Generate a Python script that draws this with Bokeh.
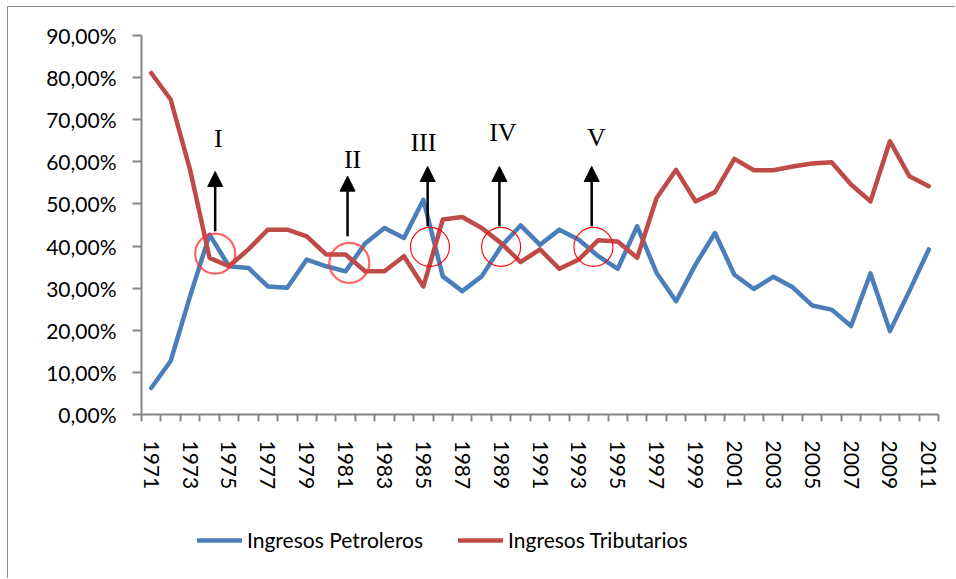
from bokeh.plotting import figure
from bokeh.layouts import column
from bokeh.models import (Range1d, FixedTicker, Legend, LegendItem, Arrow, NormalHead,
                          ColumnDataSource)
from bokeh.core.properties import value
from bokeh.embed import file_html
from bokeh.resources import INLINE

# ---------------- data ----------------
years = list(range(1971, 2012))
petroleros = [6.3, 12.7, 28.1, 42.7, 35.2, 34.8, 30.4, 30.1, 36.8, 35.2,
              34.0, 40.6, 44.3, 41.9, 51.0, 32.8, 29.3, 32.8, 39.9, 44.9,
              40.3, 43.9, 41.5, 37.6, 34.6, 44.7, 33.6, 26.9, 35.6, 43.1,
              33.2, 29.8, 32.7, 30.2, 25.9, 24.9, 21.0, 33.5, 19.8, 29.3,
              39.2]
tributarios = [81.1, 74.8, 58.1, 37.2, 35.2, 39.2, 43.9, 43.9, 42.3, 38.0,
               38.0, 34.0, 34.0, 37.6, 30.4, 46.3, 46.9, 44.3, 40.7, 36.2,
               39.2, 34.6, 36.8, 41.4, 41.1, 37.2, 51.4, 58.1, 50.6, 52.8,
               60.7, 58.0, 58.0, 58.9, 59.6, 59.9, 54.6, 50.6, 64.9, 56.6,
               54.2]
series_names = ["Ingresos Petroleros", "Ingresos Tributarios"]

y_ticks = [0, 10, 20, 30, 40, 50, 60, 70, 80, 90]
y_tick_labels = ["0,00%", "10,00%", "20,00%", "30,00%", "40,00%",
                 "50,00%", "60,00%", "70,00%", "80,00%", "90,00%"]
x_tick_years = years[::2]

# annotations (data coordinates)
ann_labels = ["I", "II", "III", "IV", "V"]
ann_label_x = [1974.45, 1981.36, 1985.0, 1989.09, 1993.9]
ann_label_y = [65.5, 60.6, 64.5, 66.9, 65.7]
arrow_x = [1974.29, 1981.10, 1985.22, 1988.91, 1993.66]
arrow_y0 = [43.5, 42.3, 44.7, 44.7, 44.7]
arrow_y1 = [57.7, 56.6, 58.9, 58.9, 58.9]
circle_x = [1974.29, 1981.19, 1985.34, 1989.0, 1993.75]
circle_y = [38.2, 36.0, 39.8, 39.8, 39.8]

# ---------------- figure ----------------
FONT = "Lato"
AXIS_COLOR = "#868686"
BLUE = "#4A7EBB"
RED = "#BE4B48"

p = figure(width=947, height=492, output_backend="svg", toolbar_location=None,
           x_range=Range1d(1970.5, 2011.5), y_range=Range1d(0, 90),
           min_border_left=133, min_border_right=17, min_border_top=28,
           min_border_bottom=85)
p.outline_line_color = None
p.xgrid.visible = False
p.ygrid.visible = False

# y axis
ya = p.yaxis[0]
ya.ticker = FixedTicker(ticks=y_ticks)
ya.major_label_overrides = {t: l for t, l in zip(y_ticks, y_tick_labels)}
ya.axis_line_color = AXIS_COLOR
ya.axis_line_width = 2
ya.major_tick_line_color = AXIS_COLOR
ya.major_tick_line_width = 2
ya.major_tick_in = 0
ya.major_tick_out = 9
ya.minor_tick_line_color = None
ya.major_label_standoff = 16
ya.major_label_text_font = FONT
ya.major_label_text_font_size = "21px"
ya.major_label_text_color = "black"

# x axis
xa = p.xaxis[0]
xa.ticker = FixedTicker(ticks=x_tick_years,
                        minor_ticks=[y - 0.5 for y in years] + [years[-1] + 0.5])
xa.major_label_overrides = {y: str(y) for y in x_tick_years}
xa.axis_line_color = AXIS_COLOR
xa.axis_line_width = 2
xa.major_tick_line_color = None
xa.major_tick_in = 0
xa.major_tick_out = 0
xa.minor_tick_line_color = AXIS_COLOR
xa.minor_tick_line_width = 2
xa.minor_tick_in = 0
xa.minor_tick_out = 7
xa.major_label_orientation = "vertical"
xa.major_label_standoff = 19
xa.major_label_text_font = FONT
xa.major_label_text_font_size = "21px"
xa.major_label_text_color = "black"

# lines
p.line(years, petroleros, line_color=BLUE, line_width=4.5,
       line_join="round", line_cap="round")
p.line(years, tributarios, line_color=RED, line_width=4.5,
       line_join="round", line_cap="round")

# circles
p.scatter(circle_x[:2], circle_y[:2], marker="circle", size=40, fill_alpha=0,
          line_color="#ff3030", line_alpha=0.75, line_width=2.2)
p.scatter(circle_x[2:], circle_y[2:], marker="circle", size=39, fill_alpha=0,
          line_color="#ff0000", line_width=1.1)

# arrows
arr_src = ColumnDataSource(dict(x=arrow_x, y0=arrow_y0, y1=arrow_y1))
p.add_layout(Arrow(x_start="x", y_start="y0", x_end="x", y_end="y1", source=arr_src,
                   line_color="black", line_width=2.5,
                   end=NormalHead(size=15, fill_color="black", line_color="black",
                                  line_width=1)))

# roman numeral labels
p.text(ann_label_x, ann_label_y, text=ann_labels, text_font=value("Liberation Serif"),
       text_font_size="26px", text_align="center", text_baseline="middle",
       text_color="black")

# ---------------- legend strip ----------------
leg = figure(width=947, height=79, output_backend="svg", toolbar_location=None,
             x_range=Range1d(1970.5, 2011.5), y_range=Range1d(1000, 1001),
             x_axis_location=None, y_axis_location=None, min_border=0)
leg.outline_line_color = None
leg.xgrid.visible = False
leg.ygrid.visible = False
r_pet = leg.line(years, petroleros, line_color=BLUE, line_width=4.5, line_cap="round")
r_tri = leg.line(years, tributarios, line_color=RED, line_width=4.5, line_cap="round")
legend = Legend(items=[LegendItem(label=series_names[0], renderers=[r_pet]),
                       LegendItem(label=series_names[1], renderers=[r_tri])],
                orientation="horizontal", location=(56, 26),
                glyph_width=45, glyph_height=20, label_standoff=5, spacing=35,
                padding=0, margin=0, border_line_color=None,
                background_fill_alpha=0,
                label_text_font=FONT, label_text_font_size="21px",
                label_text_color="black")
leg.add_layout(legend, "center")

layout = column(p, leg, spacing=0, margin=(6, 0, 0, 7),
                styles={"border-left": "1.5px solid #8c8c8c",
                        "border-top": "1.5px solid #8c8c8c"})
open("out.html", "w").write(file_html(layout, INLINE))
